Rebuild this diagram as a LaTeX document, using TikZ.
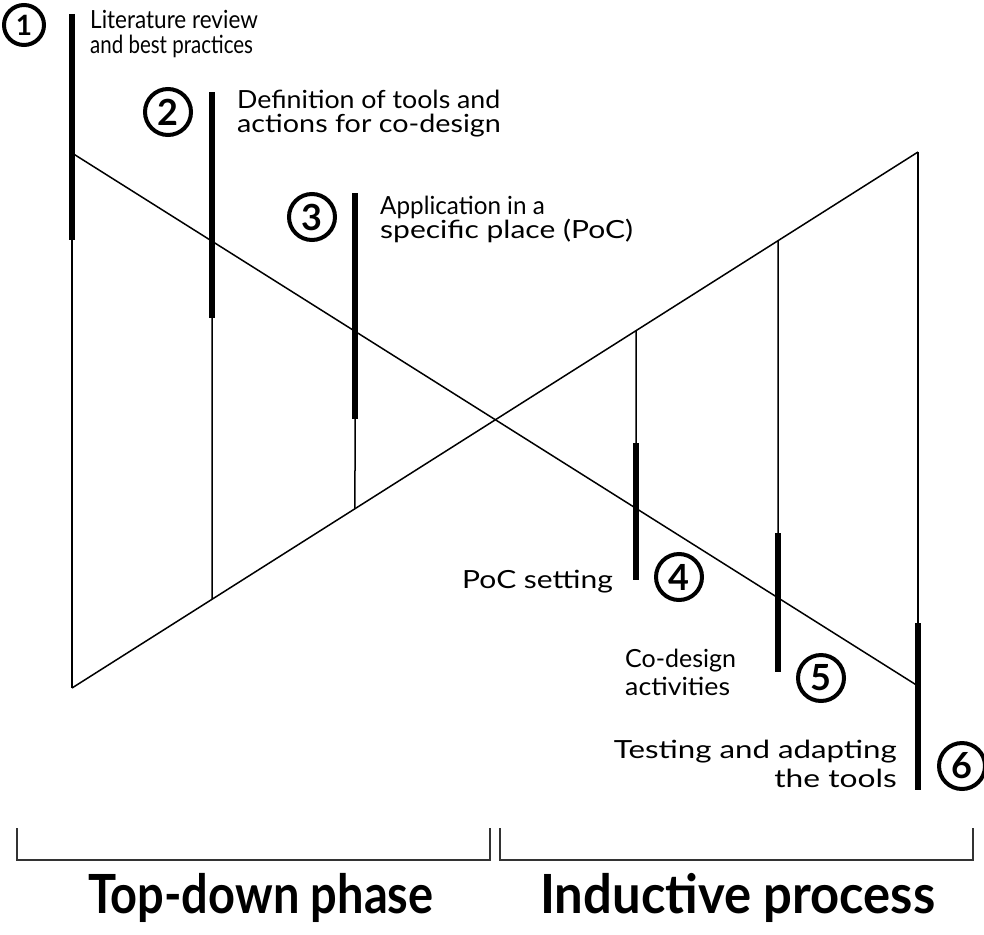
\documentclass[tikz,border=0pt]{standalone}
\usepackage{fontspec}
\usepackage{graphicx}
\setmainfont{Lato}
\usetikzlibrary{calc}
\newcommand{\hsc}[2]{\scalebox{#1}[1]{#2}}
\begin{document}
\begin{tikzpicture}[x=1pt,y=-1pt,
  thinline/.style={line width=1.5pt, line cap=butt},
  bar/.style={line width=6pt, line cap=butt},
  num/.style={circle, draw, line width=4pt, minimum size=46pt, inner sep=0pt,
    font=\fontsize{36}{36}\selectfont\bfseries},
  lbl/.style={inner sep=0pt, font=\fontsize{25}{25}\selectfont},
  big/.style={inner sep=0pt, font=\fontsize{54}{54}\selectfont\bfseries},
  bracket/.style={line width=2pt, black!80, line join=miter}]
\useasboundingbox (0,0) rectangle (984,934);
\fill[white] (0,0) rectangle (984,934);

% end points of the two diagonals
\coordinate (Atl) at (72,153);
\coordinate (Abr) at (918,686);
\coordinate (Abl) at (72,688);
\coordinate (Atr) at (918,152);
\draw[thinline] (Atl) -- (Abr);
\draw[thinline] (Abl) -- (Atr);

% vertical 1
\coordinate (v1t) at (72,14);
\coordinate (v1m) at (72,240);
\draw[bar] (v1t) -- (v1m);
\draw[thinline] (v1m) -- (Abl);
% vertical 2
\coordinate (v2t) at (212,92);
\coordinate (v2m) at (212,318);
\coordinate (v2b) at ($(Abl)!{140/846}!(Atr)$);
\draw[bar] (v2t) -- (v2m);
\draw[thinline] (v2m) -- (v2b);
% vertical 3
\coordinate (v3t) at (355,193);
\coordinate (v3m) at (355,419);
\coordinate (v3b) at ($(Abl)!{283/846}!(Atr)$);
\draw[bar] (v3t) -- (v3m);
\draw[thinline] (v3m) -- (v3b);
% vertical 4
\coordinate (v4t) at ($(Abl)!{564/846}!(Atr)$);
\coordinate (v4m) at (636,443);
\coordinate (v4b) at (636,580);
\draw[thinline] (v4t) -- (v4m);
\draw[bar] (v4m) -- (v4b);
% vertical 5
\coordinate (v5t) at ($(Abl)!{706/846}!(Atr)$);
\coordinate (v5m) at (778,533);
\coordinate (v5b) at (778,672);
\draw[thinline] (v5t) -- (v5m);
\draw[bar] (v5m) -- (v5b);
% vertical 6
\coordinate (v6m) at (918,623);
\coordinate (v6b) at (918,790);
\draw[thinline] (Atr) -- (v6m);
\draw[bar] (v6m) -- (v6b);

% numbered circles
\node[num, minimum size=40pt, font=\fontsize{28}{28}\selectfont\bfseries] (c1) at (24,25) {1};
\node[num] (c2) at (168,112) {2};
\node[num] (c3) at (312,217) {3};
\node[num] (c4) at (679,577) {4};
\node[num] (c5) at (821,678) {5};
\node[num] (c6) at (962,766) {6};

% labels
\node[lbl, anchor=base west] (t1a) at (90,29) {\hsc{0.9}{Literature review}};
\node[lbl, anchor=base west] (t1b) at (90,53) {\hsc{0.82}{and best practices}};
\node[lbl, anchor=base west] (t2a) at (237,108) {\hsc{1.07}{Definition of tools and}};
\node[lbl, anchor=base west] (t2b) at (237,132) {\hsc{1.15}{actions for co-design}};
\node[lbl, anchor=base west] (t3a) at (380,214) {\hsc{0.97}{Application in a}};
\node[lbl, anchor=base west] (t3b) at (380,238) {\hsc{1.2}{specific place (PoC)}};
\node[lbl, anchor=base west] (t4) at (462,588) {\hsc{1.2}{PoC setting}};
\node[lbl, anchor=base west] (t5a) at (625,667) {\hsc{1.0}{Co-design}};
\node[lbl, anchor=base west] (t5b) at (625,695) {\hsc{1.07}{activities}};
\node[lbl, anchor=base east] (t6a) at (897,758) {\hsc{1.25}{Testing and adapting}};
\node[lbl, anchor=base east] (t6b) at (897,787) {\hsc{1.27}{the tools}};

% brackets
\coordinate (b1a) at (17,828);
\coordinate (b1b) at (17,860);
\coordinate (b1c) at (490,860);
\coordinate (b1d) at (490,828);
\draw[bracket] (b1a) -- (b1b) -- (b1c) -- (b1d);
\coordinate (b2a) at (500,828);
\coordinate (b2b) at (500,860);
\coordinate (b2c) at (973,860);
\coordinate (b2d) at (973,828);
\draw[bracket] (b2a) -- (b2b) -- (b2c) -- (b2d);

\node[big, anchor=base west] (p1) at (88,913) {\hsc{0.87}{Top-down phase}};
\node[big, anchor=base west] (p2) at (540,913) {\hsc{0.94}{Inductive process}};
\end{tikzpicture}
\end{document}
